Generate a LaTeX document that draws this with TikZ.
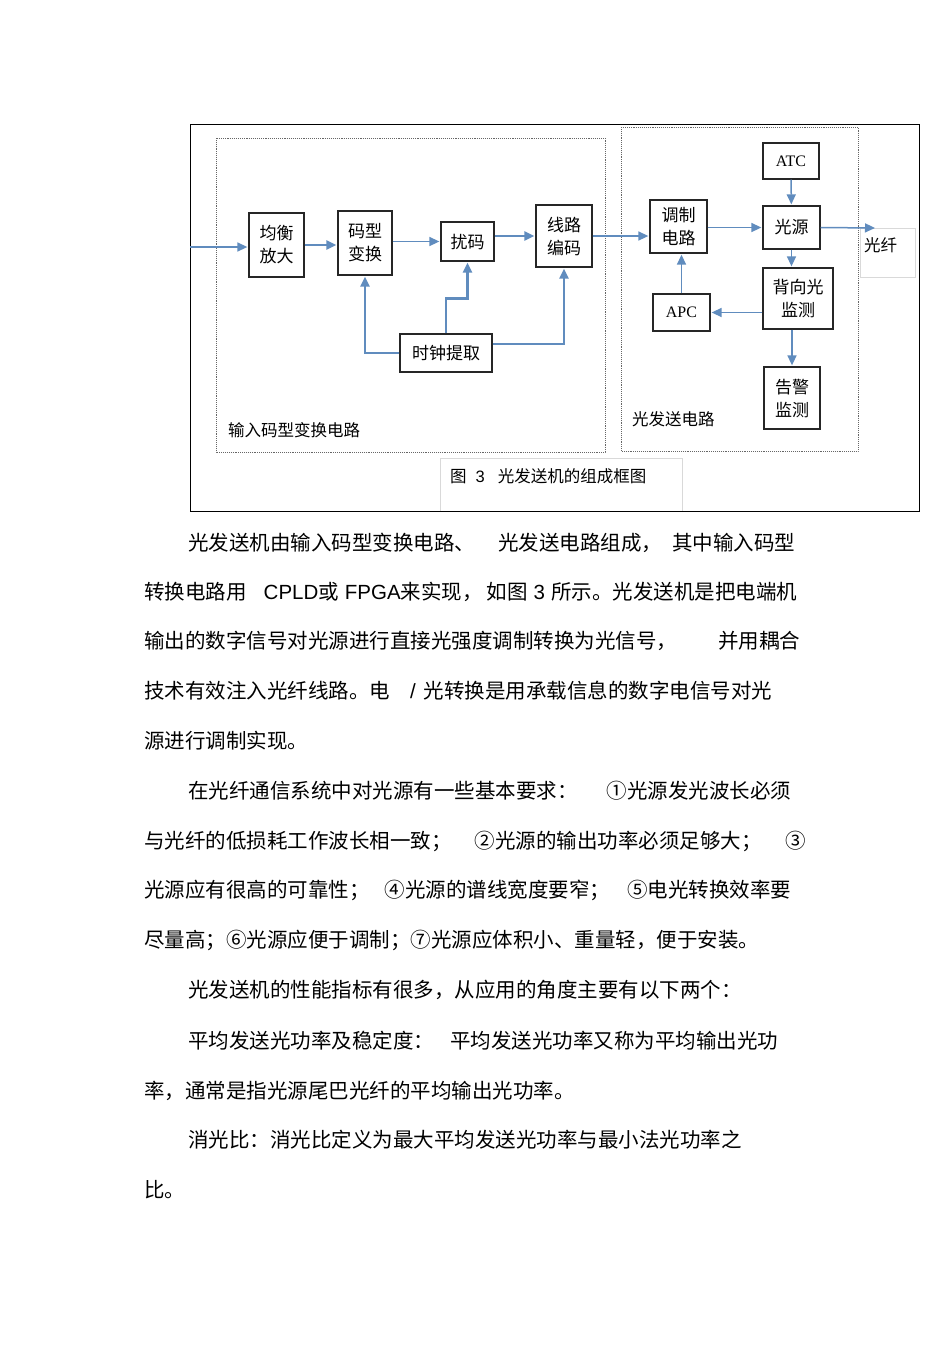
\documentclass[tikz,border=0pt]{standalone}
\usepackage{fontspec}
\setmainfont{Noto Sans CJK SC}
\newfontfamily\lat{Liberation Sans}
\newfontfamily\ser{Liberation Serif}
\usetikzlibrary{arrows.meta, calc}
\usepackage{xcolor}
\definecolor{arblue}{RGB}{96,140,190}

\begin{document}
\begin{tikzpicture}[
  x=1pt, y=-1pt,
  BX/.style={draw=black!85, line width=1.3pt, fill=white, align=center, inner sep=0pt,
             font=\fontsize{17}{23}\selectfont},
  AR/.style={-{Triangle[length=10pt,width=9pt]}, line width=1.5pt, arblue, shorten >=1pt},
  ARb/.style={AR, line width=2.6pt},
  DB/.style={draw=black!60, densely dotted, line width=0.9pt},
  LB/.style={anchor=west, inner sep=0pt, font=\fontsize{16.5}{20}\selectfont},
  TX/.style={anchor=base west, inner sep=0pt, font=\fontsize{20.5}{24}\selectfont}
]
  \fill[white] (0,0) rectangle (950,1345);
  \useasboundingbox (0,0) rectangle (950,1345);

  % frames
  \draw[black, line width=1pt] (190,124) rectangle (919,511);
  \draw[DB] (216,138) rectangle (605,452);
  \draw[DB] (621,127) rectangle (858,451);
  \draw[gray!30, line width=0.8pt] (440,511) |- (682,458) -- (682,511);
  \draw[gray!30, line width=0.8pt] (860,228) rectangle (915,277);

  % input code conversion
  \node[BX, minimum width=55pt, minimum height=64pt] (junheng)  at (276.5,245) {均衡\\放大};
  \node[BX, minimum width=54pt, minimum height=64pt] (maxing)   at (365,243)   {码型\\变换};
  \node[BX, minimum width=53pt, minimum height=39pt] (raoma)    at (467.5,241.5) {扰码};
  \node[BX, minimum width=56pt, minimum height=62pt] (xianlu)   at (564,236)   {线路\\编码};
  \node[BX, minimum width=92pt, minimum height=38pt] (shizhong) at (446,353)   {时钟提取};
  \node[LB] (lbin) at (228,430) {输入码型变换电路};

  % optical transmit
  \node[BX, minimum width=56pt, minimum height=36pt, font=\ser\fontsize{16}{18}\selectfont] (atc) at (791,161) {ATC};
  \node[BX, minimum width=57pt, minimum height=43pt] (guangyuan) at (791.5,227.5) {光源};
  \node[BX, minimum width=57pt, minimum height=53pt] (tiaozhi)   at (678.5,226.5) {调制\\电路};
  \node[BX, minimum width=70pt, minimum height=61pt] (beixiang)  at (798,298.5)   {背向光\\监测};
  \node[BX, minimum width=57pt, minimum height=37pt, font=\ser\fontsize{16}{18}\selectfont] (apc) at (681.5,312.5) {APC};
  \node[BX, minimum width=56pt, minimum height=62pt] (gaojing)   at (792,398)     {告警\\监测};
  \node[LB] (lbout) at (632,419) {光发送电路};
  \node[LB] (fiber) at (864,245) {光纤};
  \node[LB] (cap) at (450,476)
    {图\hspace{9pt}{\lat 3}\hspace{13pt}光发送机的组成框图};

  \coordinate (in)  at (190,247);
  \coordinate (fib) at (876,228);

  % connectors
  \draw[AR]  (in) -- (in -| junheng.west);
  \draw[ARb] (junheng.east) -- (junheng.east -| maxing.west);
  \draw[AR]  (maxing.east |- raoma) -- (raoma.west);
  \draw[ARb] (raoma.east |- xianlu) -- (xianlu.west);
  \draw[AR]  (xianlu.east) -- (xianlu.east -| tiaozhi.west);
  \draw[AR]  (tiaozhi.east |- guangyuan) -- (guangyuan.west);
  \draw[AR]  (guangyuan.east) -- (fib);
  \draw[AR]  (atc) -- (guangyuan);
  \draw[AR]  (guangyuan.south) -- (guangyuan.south |- beixiang.north);
  \draw[AR]  (beixiang.west |- apc) -- (apc.east);
  \draw[AR]  (apc.north) -- (apc.north |- tiaozhi.south);
  \draw[AR]  (beixiang.south -| gaojing) -- (gaojing.north);
  \draw[ARb] (shizhong.west) -| (maxing.south);
  \draw[ARb] (shizhong.north) |- ([yshift=-37pt]raoma.south) -- (raoma.south);
  \draw[ARb] ([yshift=9pt]shizhong.east) -| (xianlu.south);

  % text below the figure
  \node[TX] (p1)  at (188,550)  {光发送机由输入码型变换电路、\hspace{23pt}光发送电路组成，\hspace{10pt}其中输入码型};
  \node[TX] (p2)  at (144,599)  {转换电路用\hspace{17pt}{\lat CPLD}或\hspace{6pt}{\lat FPGA}来实现，\hspace{4pt}如图\hspace{6pt}{\lat 3}\hspace{6pt}所示。光发送机是把电端机};
  \node[TX] (p3)  at (144,648)  {输出的数字信号对光源进行直接光强度调制转换为光信号，\hspace{41pt}并用耦合};
  \node[TX] (p4)  at (144,698)  {技术有效注入光纤线路。电\hspace{20pt}{\lat /}\hspace{8pt}光转换是用承载信息的数字电信号对光};
  \node[TX] (p5)  at (144,748)  {源进行调制实现。};
  \node[TX] (p6)  at (188,798)  {在光纤通信系统中对光源有一些基本要求：\hspace{29pt}①光源发光波长必须};
  \node[TX] (p7)  at (144,848)  {与光纤的低损耗工作波长相一致；\hspace{23pt}②光源的输出功率必须足够大；\hspace{24pt}③};
  \node[TX] (p8)  at (144,897)  {光源应有很高的可靠性；\hspace{15pt}④光源的谱线宽度要窄；\hspace{17pt}⑤电光转换效率要};
  \node[TX] (p9)  at (144,947)  {尽量高；⑥光源应便于调制；⑦光源应体积小、重量轻，便于安装。};
  \node[TX] (p10) at (188,997)  {光发送机的性能指标有很多，从应用的角度主要有以下两个：};
  \node[TX] (p11) at (188,1048) {平均发送光功率及稳定度：\hspace{16pt}平均发送光功率又称为平均输出光功};
  \node[TX] (p12) at (144,1098) {率，通常是指光源尾巴光纤的平均输出光功率。};
  \node[TX] (p13) at (188,1147) {消光比：消光比定义为最大平均发送光功率与最小法光功率之};
  \node[TX] (p14) at (144,1197) {比。};
\end{tikzpicture}
\end{document}
